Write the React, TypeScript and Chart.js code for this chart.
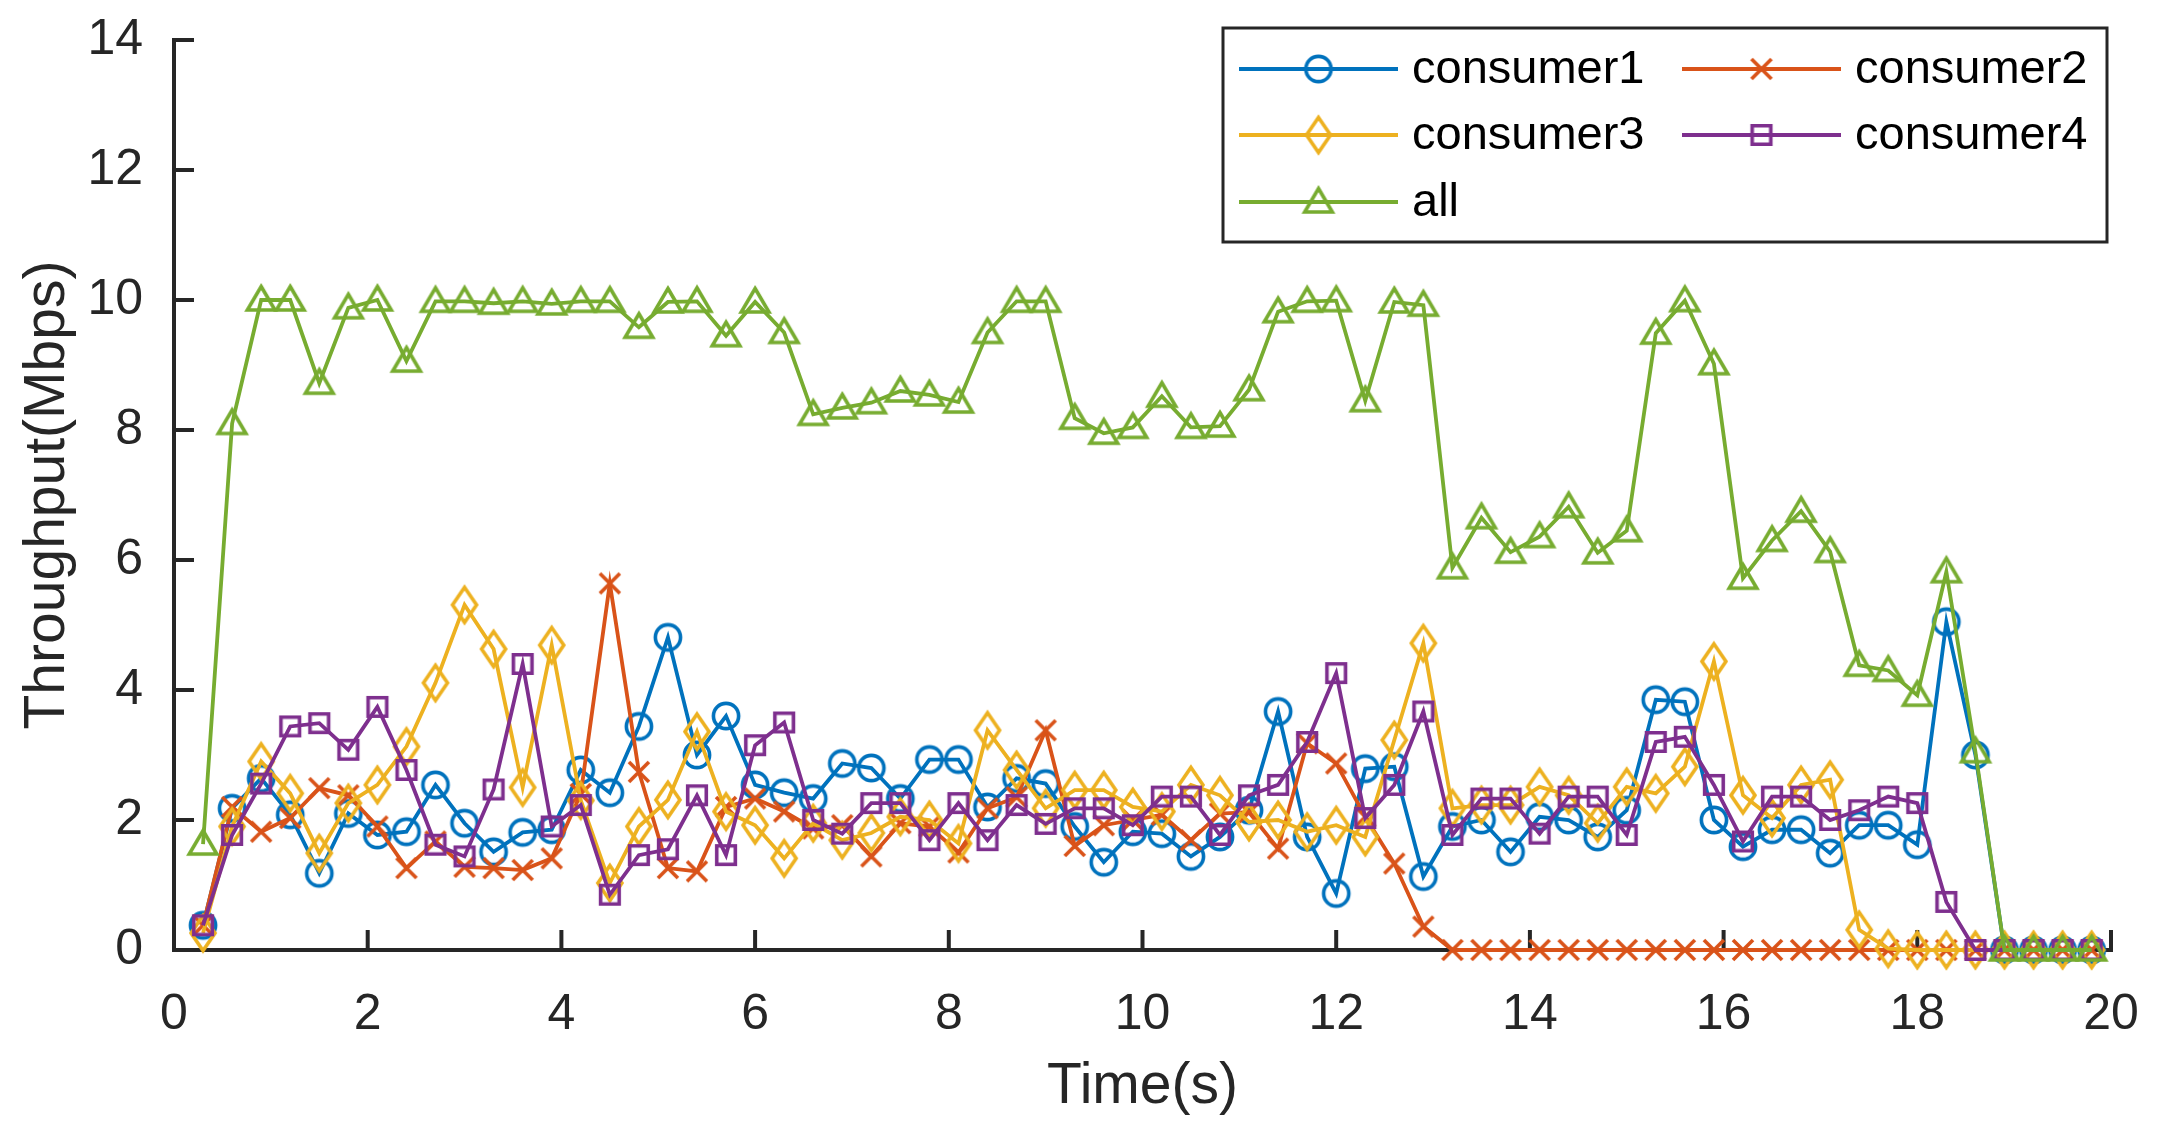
import React, { useEffect, useRef } from 'react';
import { Chart, registerables } from 'chart.js';

Chart.register(...registerables);

const FONT = '"Liberation Sans", Arial, Helvetica, sans-serif';
const AXIS_COLOR = '#262626';

const times = [
  0.3, 0.6, 0.9, 1.2, 1.5, 1.8, 2.1, 2.4, 2.7, 3.0,
  3.3, 3.6, 3.9, 4.2, 4.5, 4.8, 5.1, 5.4, 5.7, 6.0,
  6.3, 6.6, 6.9, 7.2, 7.5, 7.8, 8.1, 8.4, 8.7, 9.0,
  9.3, 9.6, 9.9, 10.2, 10.5, 10.8, 11.1, 11.4, 11.7, 12.0,
  12.3, 12.6, 12.9, 13.2, 13.5, 13.8, 14.1, 14.4, 14.7, 15.0,
  15.3, 15.6, 15.9, 16.2, 16.5, 16.8, 17.1, 17.4, 17.7, 18.0,
  18.3, 18.6, 18.9, 19.2, 19.5, 19.8,
];

const consumer1 = [
  0.38, 2.18, 2.64, 2.08, 1.18, 2.10, 1.77, 1.82, 2.54, 1.95,
  1.51, 1.81, 1.85, 2.77, 2.42, 3.44, 4.81, 3.00, 3.60, 2.54,
  2.42, 2.33, 2.87, 2.80, 2.33, 2.93, 2.93, 2.20, 2.64, 2.56,
  1.90, 1.35, 1.82, 1.79, 1.44, 1.74, 2.15, 3.67, 1.74, 0.87,
  2.79, 2.82, 1.13, 1.90, 2.00, 1.51, 2.05, 2.00, 1.74, 2.15,
  3.85, 3.82, 2.00, 1.59, 1.85, 1.85, 1.49, 1.92, 1.92, 1.62,
  5.05, 3.00, 0, 0, 0, 0,
];

const consumer2 = [
  0.38, 2.20, 1.82, 2.03, 2.49, 2.38, 1.90, 1.26, 1.67, 1.28,
  1.26, 1.23, 1.41, 2.40, 5.64, 2.74, 1.26, 1.21, 2.20, 2.33,
  2.13, 1.87, 1.92, 1.44, 1.95, 1.90, 1.50, 2.18, 2.35, 3.38,
  1.60, 1.92, 2.00, 2.08, 1.69, 2.10, 2.12, 1.56, 3.18, 2.87,
  2.05, 1.33, 0.36, 0, 0, 0, 0, 0, 0, 0,
  0, 0, 0, 0, 0, 0, 0, 0, 0, 0,
  0, 0, 0, 0, 0, 0,
];

const consumer3 = [
  0.26, 1.90, 2.90, 2.41, 1.49, 2.26, 2.54, 3.13, 4.11, 5.31,
  4.63, 2.50, 4.69, 2.30, 1.03, 1.90, 2.31, 3.36, 2.13, 1.92,
  1.41, 1.95, 1.69, 1.80, 2.05, 2.00, 1.64, 3.38, 2.77, 2.18,
  2.46, 2.46, 2.20, 2.13, 2.54, 2.38, 1.97, 2.00, 1.82, 1.92,
  1.74, 3.23, 4.72, 2.18, 2.23, 2.23, 2.51, 2.38, 1.95, 2.51,
  2.41, 2.82, 4.44, 2.38, 2.03, 2.54, 2.62, 0.31, 0.02, 0,
  0, 0, 0, 0, 0, 0,
];

const consumer4 = [
  0.38, 1.77, 2.56, 3.44, 3.49, 3.08, 3.74, 2.77, 1.62, 1.44,
  2.47, 4.40, 1.90, 2.23, 0.85, 1.46, 1.55, 2.38, 1.46, 3.15,
  3.50, 2.00, 1.79, 2.26, 2.26, 1.69, 2.26, 1.69, 2.23, 1.94,
  2.18, 2.18, 1.92, 2.36, 2.36, 1.77, 2.38, 2.54, 3.20, 4.26,
  2.03, 2.54, 3.67, 1.77, 2.33, 2.33, 1.79, 2.36, 2.36, 1.77,
  3.20, 3.28, 2.54, 1.67, 2.36, 2.36, 2.00, 2.15, 2.36, 2.26,
  0.74, 0, 0, 0, 0, 0,
];

const allSeries = [
  1.63, 8.10, 10.0, 10.0, 8.72, 9.88, 10.0, 9.06, 9.98, 9.98,
  9.95, 9.98, 9.94, 9.98, 9.98, 9.58, 9.97, 9.98, 9.45, 9.97,
  9.50, 8.24, 8.34, 8.42, 8.60, 8.54, 8.43, 9.50, 9.98, 9.98,
  8.18, 7.95, 8.04, 8.52, 8.04, 8.06, 8.62, 9.82, 9.98, 9.99,
  8.45, 9.97, 9.92, 5.88, 6.65, 6.12, 6.36, 6.82, 6.11, 6.45,
  9.49, 9.99, 9.02, 5.72, 6.30, 6.75, 6.13, 4.38, 4.30, 3.92,
  5.82, 3.05, 0, 0, 0, 0,
];

const seriesNames = ['consumer1', 'consumer2', 'consumer3', 'consumer4', 'all'];
const seriesColors = ['#0072BD', '#D95319', '#EDB120', '#7E2F8E', '#77AC30'];
const seriesMarkers = ['circle', 'x', 'diamond', 'square', 'triangle'];
const seriesValues = [consumer1, consumer2, consumer3, consumer4, allSeries];

const xTickStep = 2;
const yTickStep = 2;
const xRange = [0, 20];
const yRange = [0, 14];

const LINE_W = 3.8;
const MARK_W = 3.6;

function makeMarker(kind: string, color: string): HTMLCanvasElement {
  const c = document.createElement('canvas');
  c.width = 50;
  c.height = 50;
  const g = c.getContext('2d')!;
  g.strokeStyle = color;
  g.lineWidth = MARK_W;
  g.lineJoin = 'miter';
  g.lineCap = 'butt';
  g.translate(25, 25);
  g.beginPath();
  switch (kind) {
    case 'circle':
      g.arc(0, 0, 12.6, 0, Math.PI * 2);
      break;
    case 'x':
      g.moveTo(-10, -10);
      g.lineTo(10, 10);
      g.moveTo(10, -10);
      g.lineTo(-10, 10);
      break;
    case 'diamond':
      g.moveTo(0, -17.5);
      g.lineTo(12, 0);
      g.lineTo(0, 17.5);
      g.lineTo(-12, 0);
      g.closePath();
      break;
    case 'square':
      g.rect(-9.3, -9.3, 18.6, 18.6);
      break;
    case 'triangle':
      g.moveTo(0, -13.5);
      g.lineTo(13.8, 10);
      g.lineTo(-13.8, 10);
      g.closePath();
      break;
  }
  g.stroke();
  return c;
}

export default function App() {
  const ref = useRef<HTMLCanvasElement | null>(null);

  useEffect(() => {
    document.body.style.margin = '0';
    const canvas = ref.current;
    if (!canvas) return;

    const markers = seriesMarkers.map((m, i) => makeMarker(m, seriesColors[i]));

    const datasets = seriesNames.map((name, i) => ({
      label: name,
      data: times.map((t, j) => ({ x: t, y: seriesValues[i][j] })),
      borderColor: seriesColors[i],
      backgroundColor: seriesColors[i],
      borderWidth: LINE_W,
      pointStyle: markers[i],
      pointRadius: 14,
      pointHoverRadius: 14,
      tension: 0,
      fill: false,
      clip: false as any,
      order: seriesNames.length - i,
    }));

    const axesPlugin = {
      id: 'matlabAxes',
      beforeDatasetsDraw(chart: any) {
        const { ctx, chartArea, scales } = chart;
        const xs = scales.x;
        const ys = scales.y;
        ctx.save();
        ctx.strokeStyle = AXIS_COLOR;
        ctx.lineWidth = 4;
        ctx.lineCap = 'butt';
        ctx.beginPath();
        ctx.moveTo(chartArea.left, chartArea.top - 2);
        ctx.lineTo(chartArea.left, chartArea.bottom);
        ctx.lineTo(chartArea.right + 2, chartArea.bottom);
        ctx.stroke();
        const tl = 20;
        ctx.beginPath();
        for (const t of xs.ticks) {
          const px = xs.getPixelForValue(t.value);
          ctx.moveTo(px, chartArea.bottom);
          ctx.lineTo(px, chartArea.bottom - tl);
        }
        for (const t of ys.ticks) {
          const py = ys.getPixelForValue(t.value);
          ctx.moveTo(chartArea.left, py);
          ctx.lineTo(chartArea.left + tl, py);
        }
        ctx.stroke();
        ctx.restore();
      },
    };

    const legendPlugin = {
      id: 'matlabLegend',
      afterDraw(chart: any) {
        const { ctx } = chart;
        const box = { l: 1223, t: 28, r: 2107, b: 242 };
        ctx.save();
        ctx.fillStyle = '#ffffff';
        ctx.fillRect(box.l, box.t, box.r - box.l, box.b - box.t);
        ctx.strokeStyle = AXIS_COLOR;
        ctx.lineWidth = 3;
        ctx.strokeRect(box.l, box.t, box.r - box.l, box.b - box.t);
        const cols = [1239, 1682];
        const rows = [69, 135, 202];
        const lineLen = 159;
        ctx.font = `47px ${FONT}`;
        ctx.textBaseline = 'middle';
        ctx.textAlign = 'left';
        seriesNames.forEach((name, i) => {
          const cx = cols[i % 2];
          const cy = rows[Math.floor(i / 2)];
          ctx.strokeStyle = seriesColors[i];
          ctx.lineWidth = LINE_W;
          ctx.beginPath();
          ctx.moveTo(cx, cy);
          ctx.lineTo(cx + lineLen, cy);
          ctx.stroke();
          const mk = markers[i];
          ctx.drawImage(mk, cx + lineLen / 2 - mk.width / 2, cy - mk.height / 2);
          ctx.fillStyle = '#000000';
          ctx.fillText(name, cx + 173, cy + 1);
        });
        ctx.restore();
      },
    };

    const chart = new Chart(canvas, {
      type: 'line',
      data: { datasets: datasets as any },
      plugins: [axesPlugin, legendPlugin],
      options: {
        animation: false,
        responsive: false,
        devicePixelRatio: 1,
        layout: { padding: { top: 40, right: 53, left: 0, bottom: 0 } },
        plugins: {
          legend: { display: false },
          tooltip: { enabled: false },
        },
        scales: {
          x: {
            type: 'linear',
            min: xRange[0],
            max: xRange[1],
            ticks: {
              stepSize: xTickStep,
              color: AXIS_COLOR,
              font: { family: FONT, size: 50 },
              padding: 27,
              maxRotation: 0,
              autoSkip: false,
            },
            grid: { display: false },
            border: { display: false },
            title: {
              display: true,
              text: 'Time(s)',
              color: AXIS_COLOR,
              font: { family: FONT, size: 57 },
              padding: { top: 0, bottom: 15 },
            },
            afterFit: (s: any) => {
              s.height = 186;
              s.paddingLeft = 0;
              s.paddingRight = 0;
              s.paddingTop = 0;
              s.paddingBottom = 0;
            },
          },
          y: {
            type: 'linear',
            min: yRange[0],
            max: yRange[1],
            ticks: {
              stepSize: yTickStep,
              color: AXIS_COLOR,
              font: { family: FONT, size: 50 },
              padding: 23,
            },
            grid: { display: false },
            border: { display: false },
            title: {
              display: true,
              text: 'Throughput(Mbps)',
              color: AXIS_COLOR,
              font: { family: FONT, size: 57 },
              padding: { top: 14, bottom: 0 },
            },
            afterFit: (s: any) => {
              s.width = 174;
              s.paddingTop = 0;
              s.paddingBottom = 0;
              s.paddingLeft = 0;
              s.paddingRight = 0;
            },
          },
        },
      },
    });

    return () => {
      chart.destroy();
    };
  }, []);

  return (
    <canvas
      ref={ref}
      width={2164}
      height={1136}
      style={{ display: 'block', width: '2164px', height: '1136px' }}
    />
  );
}
